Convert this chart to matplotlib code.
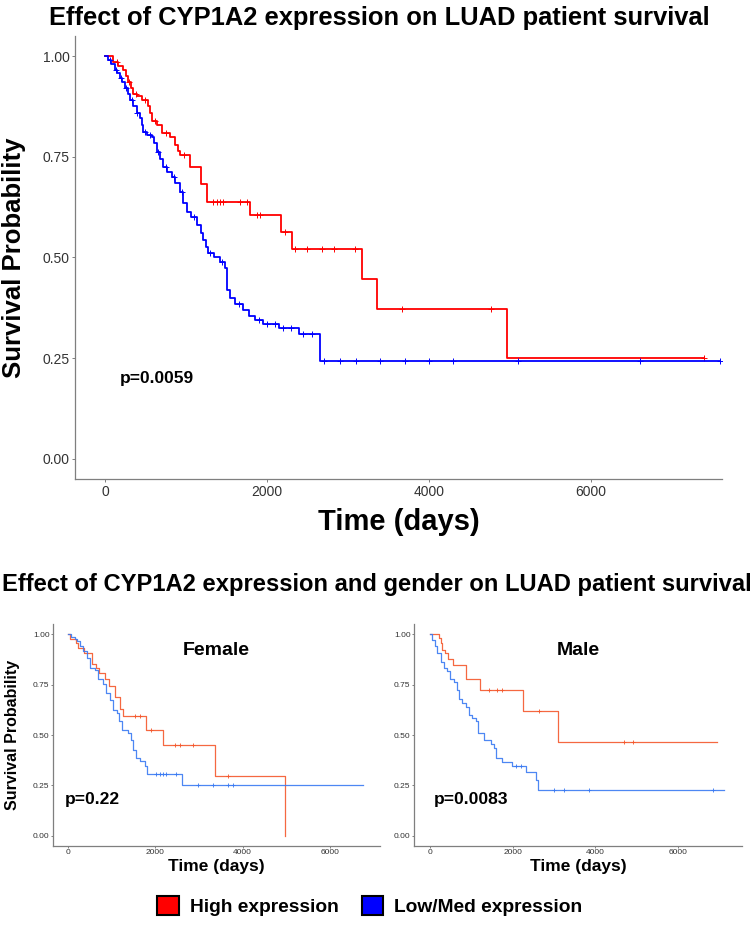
import numpy as np
import matplotlib.pyplot as plt
from matplotlib.patches import Patch

plt.rcParams['font.family'] = ['Liberation Sans', 'DejaVu Sans']

# ---- data ----
# top panel: all patients (time in days, survival after the event)
top_high_t = [0, 100, 160, 220, 260, 290, 320, 340, 400, 460, 530, 560, 580, 640, 700, 800,
              870, 900, 925, 1050, 1190, 1255, 1790, 2170, 2310, 3170, 3355, 4960]
top_high_s = [1.0, 0.985, 0.975, 0.965, 0.95, 0.935, 0.92, 0.905, 0.90, 0.89, 0.875, 0.86, 0.84,
              0.83, 0.81, 0.80, 0.78, 0.765, 0.755, 0.725, 0.682, 0.638, 0.605, 0.564, 0.521,
              0.447, 0.373, 0.25]
top_high_end = 7400
top_high_cens = [150, 300, 380, 500, 620, 750, 980, 1337, 1379, 1420, 1461, 1667, 1749, 1873,
                 1914, 2222, 2346, 2490, 2683, 2831, 3090, 3671, 4765, 7400]

top_low_t = [0, 40, 80, 120, 145, 180, 210, 247, 280, 310, 347, 390, 432, 455, 473, 520, 576,
             600, 638, 680, 720, 770, 823, 870, 926, 967, 1008, 1060, 1132, 1180, 1214, 1250,
             1276, 1350, 1420, 1481, 1502, 1540, 1600, 1700, 1780, 1850, 1950, 2150, 2400, 2650]
top_low_s = [1.0, 0.99, 0.98, 0.965, 0.958, 0.945, 0.935, 0.921, 0.905, 0.89, 0.875, 0.86, 0.847,
             0.83, 0.812, 0.805, 0.80, 0.785, 0.763, 0.745, 0.725, 0.712, 0.70, 0.685, 0.663,
             0.635, 0.613, 0.60, 0.58, 0.56, 0.543, 0.525, 0.51, 0.50, 0.489, 0.473, 0.419,
             0.40, 0.385, 0.37, 0.355, 0.345, 0.335, 0.325, 0.31, 0.242]
top_low_end = 7590
top_low_cens = [60, 130, 200, 260, 330, 400, 500, 560, 650, 750, 850, 950, 1100, 1300, 1450,
                1650, 1900, 2000, 2100, 2200, 2300, 2450, 2550, 2700, 2900, 3100, 3400, 3700,
                4000, 4300, 5100, 6600, 7590]

# female
fem_high_t = [0, 38, 191, 229, 359, 558, 650, 711, 841, 940, 1070, 1200, 1261, 1797, 2179, 3379, 4969]
fem_high_s = [1.0, 0.975, 0.955, 0.93, 0.906, 0.853, 0.83, 0.807, 0.777, 0.745, 0.69, 0.628,
              0.592, 0.526, 0.45, 0.298, 0.0]
fem_high_end = 4969
fem_high_cens = [1529, 1644, 1911, 2446, 2561, 2867, 3670]

fem_low_t = [0, 76, 153, 206, 268, 344, 436, 512, 612, 688, 803, 879, 956, 1032, 1124, 1170,
             1246, 1376, 1453, 1491, 1552, 1644, 1758, 1820, 2622]
fem_low_s = [1.0, 0.988, 0.977, 0.964, 0.939, 0.914, 0.881, 0.831, 0.82, 0.777, 0.754, 0.707,
             0.674, 0.625, 0.608, 0.567, 0.526, 0.509, 0.476, 0.426, 0.385, 0.369, 0.344, 0.306,
             0.253]
fem_low_end = 6750
fem_low_cens = [2026, 2102, 2179, 2255, 2485, 2982, 3326, 3670, 3784]

# male
male_high_t = [0, 218, 258, 299, 363, 444, 557, 864, 1212, 2262, 3110]
male_high_s = [1.0, 0.98, 0.955, 0.922, 0.906, 0.876, 0.848, 0.779, 0.721, 0.618, 0.464]
male_high_end = 6947
male_high_cens = [1430, 1632, 1753, 2641, 4701, 4903]

male_low_t = [0, 57, 121, 178, 258, 339, 420, 477, 582, 662, 703, 784, 880, 945, 1026, 1107,
              1171, 1309, 1470, 1551, 1607, 1753, 1979, 2318, 2561, 2625]
male_low_s = [1.0, 0.972, 0.939, 0.906, 0.864, 0.831, 0.815, 0.777, 0.765, 0.724, 0.678, 0.658,
              0.641, 0.60, 0.583, 0.567, 0.512, 0.476, 0.456, 0.435, 0.385, 0.364, 0.344, 0.319,
              0.278, 0.228]
male_low_end = 7125
male_low_cens = [2080, 2200, 3005, 3247, 3853, 6842]

groups = ['High expression', 'Low/Med expression']


def km(ax, t, s, end, cens, color, lw, ms, alpha=1.0):
    tt = list(t) + [end]
    ss = list(s) + [s[-1]]
    ax.step(tt, ss, where='post', color=color, lw=lw, alpha=alpha)
    idx = np.searchsorted(t, cens, side='right') - 1
    ax.plot(cens, np.array(s)[idx], ls='none', marker='+', ms=ms, mew=0.7,
            color=color, alpha=alpha)


def style(ax, fs, pad, ln):
    for side in ['top', 'right']:
        ax.spines[side].set_visible(False)
    for side in ['left', 'bottom']:
        ax.spines[side].set_color('#7f7f7f')
        ax.spines[side].set_linewidth(0.9)
    ax.tick_params(colors='#7f7f7f', labelcolor='#333333', labelsize=fs, length=ln, width=0.7,
                   pad=pad)
    ax.set_ylim(-0.05, 1.05)
    ax.set_yticks([0, 0.25, 0.5, 0.75, 1.0])
    ax.set_yticklabels(['0.00', '0.25', '0.50', '0.75', '1.00'])


fig = plt.figure(figsize=(7.55, 9.31), dpi=100)
W, H = 755, 931


def box(l, r, t, b):
    return [l / W, 1 - b / H, (r - l) / W, (b - t) / H]


# top panel
ax = fig.add_axes(box(75, 722, 36, 479))
km(ax, top_high_t, top_high_s, top_high_end, top_high_cens, '#ff0000', 1.3, 4.5)
km(ax, top_low_t, top_low_s, top_low_end, top_low_cens, '#0000ff', 1.3, 4.5)
style(ax, 10, 1.5, 2.5)
ax.set_xlim(-370, 7617)
ax.set_xticks([0, 2000, 4000, 6000])
ax.set_xlabel('Time (days)', fontsize=21, fontweight='bold', labelpad=7)
ax.set_ylabel('Survival Probability', fontsize=18.5, fontweight='bold', labelpad=12)
ax.text(640, 0.2, 'p=0.0059', fontsize=12.5, fontweight='bold', ha='center', va='center')
fig.text(379 / W, 1 - 18 / H, 'Effect of CYP1A2 expression on LUAD patient survival',
         fontsize=18.4, fontweight='bold', ha='center', va='center')

# bottom panels
fig.text(377 / W, 1 - 585 / H, 'Effect of CYP1A2 expression and gender on LUAD patient survival',
         fontsize=17.1, fontweight='bold', ha='center', va='center')

axf = fig.add_axes(box(53, 380, 624, 846))
km(axf, fem_high_t, fem_high_s, fem_high_end, fem_high_cens, '#f4582c', 0.9, 3, 0.9)
km(axf, fem_low_t, fem_low_s, fem_low_end, fem_low_cens, '#3a7af2', 0.9, 3, 0.9)
style(axf, 6, 1, 1.5)
axf.set_xlim(-344, 7149)
axf.set_xticks([0, 2000, 4000, 6000])
axf.set_xlabel('Time (days)', fontsize=12.5, fontweight='bold', labelpad=2)
axf.set_ylabel('Survival Probability', fontsize=11.5, fontweight='bold', labelpad=9)
axf.text(0.5, 0.88, 'Female', transform=axf.transAxes, fontsize=14, fontweight='bold',
         ha='center', va='center')
axf.text(560, 0.18, 'p=0.22', fontsize=12.6, fontweight='bold', ha='center', va='center')

axm = fig.add_axes(box(414, 742, 624, 846))
km(axm, male_high_t, male_high_s, male_high_end, male_high_cens, '#f4582c', 0.9, 3, 0.9)
km(axm, male_low_t, male_low_s, male_low_end, male_low_cens, '#3a7af2', 0.9, 3, 0.9)
style(axm, 6, 1, 1.5)
axm.set_xlim(-387, 7554)
axm.set_xticks([0, 2000, 4000, 6000])
axm.set_xlabel('Time (days)', fontsize=12.5, fontweight='bold', labelpad=2)
axm.text(0.5, 0.88, 'Male', transform=axm.transAxes, fontsize=14, fontweight='bold',
         ha='center', va='center')
axm.text(1000, 0.18, 'p=0.0083', fontsize=12.6, fontweight='bold', ha='center', va='center')

handles = [Patch(facecolor='#ff0000', edgecolor='black', lw=1.5),
           Patch(facecolor='#0000ff', edgecolor='black', lw=1.5)]
fig.legend(handles, groups, loc='center', bbox_to_anchor=(370 / W, 1 - 906 / H), ncol=2,
           frameon=False, prop={'size': 13.8, 'weight': 'bold'}, handlelength=1.1,
           handleheight=1.1, handletextpad=0.6, columnspacing=1.2)

fig.savefig('out.png', dpi=100)
